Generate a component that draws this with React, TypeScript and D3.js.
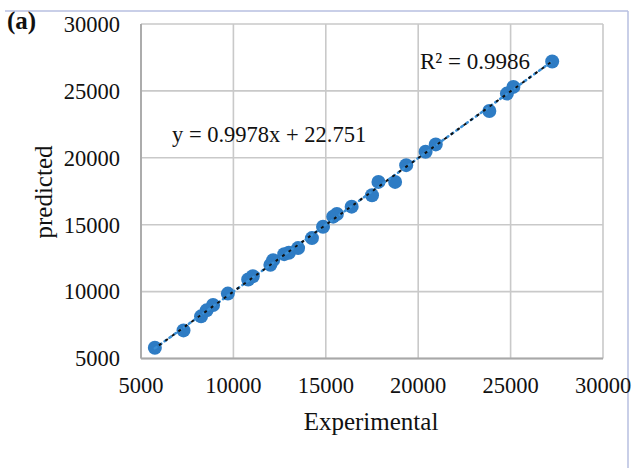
import React from "react";
import * as d3 from "d3";

const experimental = [5750, 7300, 8250, 8550, 8900, 9700, 10800, 11050, 12000, 12150, 12750, 13000, 13500, 14250, 14850, 15400, 15600, 16400, 17500, 17850, 18750, 19350, 20400, 20950, 23850, 24800, 25150, 27250];
const predicted = [5800, 7100, 8150, 8600, 9000, 9850, 10900, 11150, 12000, 12350, 12800, 12900, 13250, 14000, 14850, 15600, 15800, 16350, 17200, 18200, 18200, 19450, 20450, 21000, 23500, 24800, 25300, 27200];
const xTicks = [5000, 10000, 15000, 20000, 25000, 30000];
const yTicks = [5000, 10000, 15000, 20000, 25000, 30000];
const slope = 0.9978;
const intercept = 22.751;

export default function App() {
  const W = 633, H = 468;
  const left = 141, right = 603, top = 24, bottom = 358.5;
  const x = d3.scaleLinear().domain([5000, 30000]).range([left, right]);
  const y = d3.scaleLinear().domain([5000, 30000]).range([bottom, top]);
  const xMin = d3.min(experimental) as number;
  const xMax = d3.max(experimental) as number;
  const trend = d3.line<number>().x(v => x(v)).y(v => y(slope * v + intercept));
  const trendPath = trend([xMin, xMax]) || "";
  const font = "'Liberation Serif', 'Times New Roman', serif";
  return (
    <svg width={W} height={H} style={{ position: "absolute", left: 0, top: 0, background: "#fff" }} fontFamily={font}>
      <line x1={5} x2={628} y1={11} y2={11} stroke="#b7bfe0" strokeWidth={1.5} />
      <line x1={628} x2={628} y1={11} y2={468} stroke="#b7bfe0" strokeWidth={1.5} />
      {xTicks.map(t => (
        <line key={"gx" + t} x1={x(t)} x2={x(t)} y1={top} y2={bottom} stroke="#c9c9c9" strokeWidth={1.6} />
      ))}
      {yTicks.map(t => (
        <line key={"gy" + t} x1={left} x2={right} y1={y(t)} y2={y(t)} stroke="#c9c9c9" strokeWidth={1.6} />
      ))}
      <line x1={left} x2={left} y1={top} y2={bottom} stroke="#a8a8a8" strokeWidth={1.8} />
      <line x1={left} x2={right} y1={bottom} y2={bottom} stroke="#a8a8a8" strokeWidth={1.8} />
      {xTicks.map(t => (
        <text key={"tx" + t} x={x(t)} y={393} textAnchor="middle" fontSize={22.5} fill="#111">{t}</text>
      ))}
      {yTicks.map(t => (
        <text key={"ty" + t} x={120} y={y(t)} dy="0.35em" textAnchor="end" fontSize={22.5} fill="#111">{t}</text>
      ))}
      {experimental.map((v, i) => (
        <circle key={"p" + i} cx={x(v)} cy={y(predicted[i])} r={7} fill="#2e7cc4" />
      ))}
      <path d={trendPath} stroke="#3a8fd6" strokeWidth={2.5} strokeDasharray="2 4" strokeLinecap="round" fill="none" />
      <path d={trendPath} stroke="#111" strokeWidth={2} strokeDasharray="3 5" strokeDashoffset={3} fill="none" />
      <text x={172} y={142} fontSize={22.5} fill="#111">y = 0.9978x + 22.751</text>
      <text x={420} y={69} fontSize={23} fill="#111">R² = 0.9986</text>
      <text x={371} y={430} textAnchor="middle" fontSize={25} fill="#111">Experimental</text>
      <text transform={`translate(52,192) rotate(-90)`} textAnchor="middle" fontSize={25} fill="#111">predicted</text>
      <text x={7} y={29} fontSize={25} fontWeight="bold" fill="#111">(a)</text>
    </svg>
  );
}
